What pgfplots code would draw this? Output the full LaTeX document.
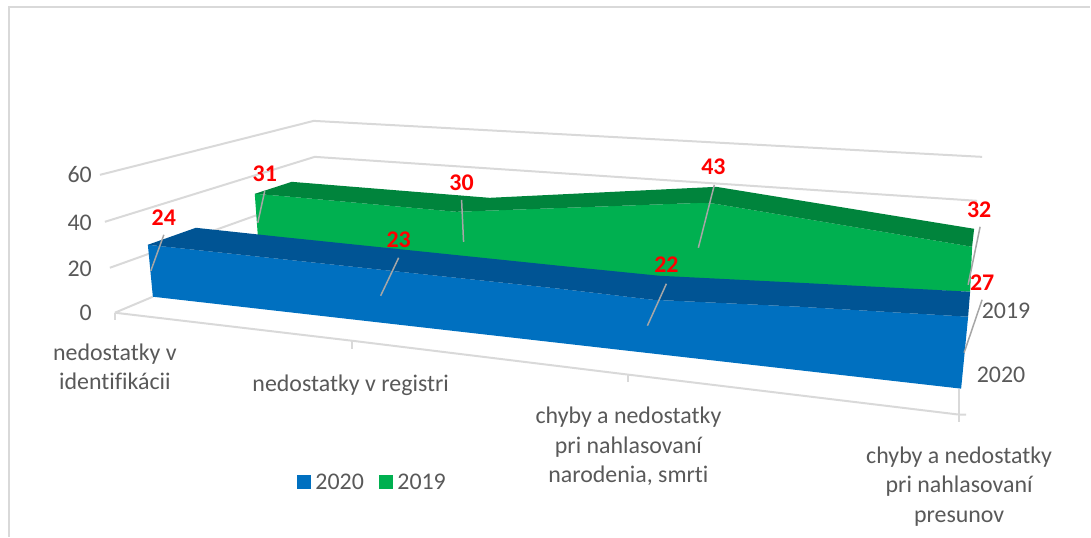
\documentclass[border=0pt]{standalone}
\usepackage{fontspec}
\setmainfont[Ligatures=NoCommon]{Carlito}
\usepackage{pgfplots}
\pgfplotsset{compat=1.18}
\usepackage{pgfplotstable}
\definecolor{txt}{HTML}{595959}
\definecolor{gridc}{HTML}{D9D9D9}
\definecolor{leader}{HTML}{A6A6A6}
\definecolor{blueF}{HTML}{0070C0}
\definecolor{blueT}{HTML}{005494}
\definecolor{greenF}{HTML}{00B050}
\definecolor{greenT}{HTML}{00843C}
\pgfplotstableread{
x y v
164 218 24
399 240 23
667 265 22
983 283 27
265 174 31
462 183 30
714 167 43
980 210 32
}\datalabels
\pgfplotstableread{
x y v
92 175 60
92 223 40
92 269 20
92 313 0
}\ticklabels
\tikzset{lbl/.style={text=txt, align=center, inner sep=0pt, font=\fontsize{24}{29.5}\selectfont}}
\begin{document}
\begin{tikzpicture}
\begin{axis}[
  hide axis, scale only axis, width=1091bp, height=537bp,
  xmin=0, xmax=1091, ymin=0, ymax=537, y dir=reverse, clip=false,
]
\path (axis cs:0,0) rectangle (axis cs:1091,537);
% chart frame
\addplot[gridc, line width=2bp, forget plot] coordinates {(9.5,537) (9.5,7.5) (1091,7.5)};
% back wall grid lines
\addplot[gridc, line width=2bp, forget plot] coordinates {(100,175) (314,121) (983,157)};
\addplot[gridc, line width=2bp, forget plot] coordinates {(105,222) (315,157) (978,201)};
\addplot[gridc, line width=2bp, forget plot] coordinates {(110,268) (258,215)};
\addplot[gridc, line width=2bp, forget plot] coordinates {(115,313) (153,297)};
% floor edge and ticks
\addplot[gridc, line width=2bp, forget plot] coordinates {(115,313) (352,341) (629,375) (960,415) (967,415)};
\addplot[gridc, line width=2bp, forget plot] coordinates {(115,313) (115,320)};
\addplot[gridc, line width=2bp, forget plot] coordinates {(352,341) (352,349)};
\addplot[gridc, line width=2bp, forget plot] coordinates {(629,375) (629,382)};
\addplot[gridc, line width=2bp, forget plot] coordinates {(960,389) (960,422)};
% 2019 series
\addplot[fill=greenF, draw=none, forget plot] coordinates {(255,194) (280,196) (457,212) (703,203) (716,204) (973,247) (971,292) (800,285) (660,280) (280,240) (258,235)} -- cycle;
\addplot[fill=greenT, draw=none, forget plot] coordinates {(255,194) (292,182) (490,198) (717,187) (975,229) (973,247) (716,204) (703,203) (457,212) (280,196)} -- cycle;
% 2020 series
\addplot[fill=blueF, draw=none, forget plot] coordinates {(148,245) (400,272) (560,289) (653,300) (800,307) (969,317) (962,389) (153,297)} -- cycle;
\addplot[fill=blueT, draw=none, forget plot] coordinates {(148,245) (196,228) (280,237) (560,266) (660,276) (800,283) (971,292) (969,317) (800,307) (653,300) (560,289) (400,272)} -- cycle;
% leader lines
\addplot[leader, line width=1.5bp, forget plot] coordinates {(164,235) (151,271)};
\addplot[leader, line width=1.5bp, forget plot] coordinates {(265,191) (258,223)};
\addplot[leader, line width=1.5bp, forget plot] coordinates {(462,200) (464,242)};
\addplot[leader, line width=1.5bp, forget plot] coordinates {(399,258) (381,296)};
\addplot[leader, line width=1.5bp, forget plot] coordinates {(667,284) (648,326)};
\addplot[leader, line width=1.5bp, forget plot] coordinates {(715,185) (699,248)};
\addplot[leader, line width=1.5bp, forget plot] coordinates {(981,227) (969,285)};
\addplot[leader, line width=1.5bp, forget plot] coordinates {(983,300) (965,353)};
% data labels
\addplot[draw=none, forget plot, point meta=explicit symbolic,
  nodes near coords, nodes near coords align={anchor=center},
  every node near coord/.append style={text=red, inner sep=0pt, font=\fontsize{24}{25}\selectfont\bfseries}]
  table[x=x, y=y, meta=v] {\datalabels};
% value axis labels
\addplot[draw=none, forget plot, point meta=explicit symbolic,
  nodes near coords, nodes near coords align={anchor=east},
  every node near coord/.append style={text=txt, inner sep=0pt, font=\fontsize{24}{25}\selectfont}]
  table[x=x, y=y, meta=v] {\ticklabels};
% legend
\addplot[fill=blueF, draw=none, forget plot] coordinates {(297,475) (311,475) (311,489) (297,489)} -- cycle;
\addplot[fill=greenF, draw=none, forget plot] coordinates {(379,475) (393,475) (393,489) (379,489)} -- cycle;
\node[lbl] at (axis cs:340,482) {2020};
\node[lbl] at (axis cs:422,482) {2019};
% text labels
\node[lbl] at (axis cs:115,367) {nedostatky v\\identifikácii};
\node[lbl] at (axis cs:351,386) {nedostatky v registri};
\node[lbl] at (axis cs:629,447) {chyby a nedostatky\\pri nahlasovaní\\narodenia, smrti};
\node[lbl] at (axis cs:960,487) {chyby a nedostatky\\pri nahlasovaní\\presunov};
\node[lbl] at (axis cs:1007,311) {2019};
\node[lbl] at (axis cs:1002,375) {2020};
\end{axis}
\end{tikzpicture}
\end{document}
